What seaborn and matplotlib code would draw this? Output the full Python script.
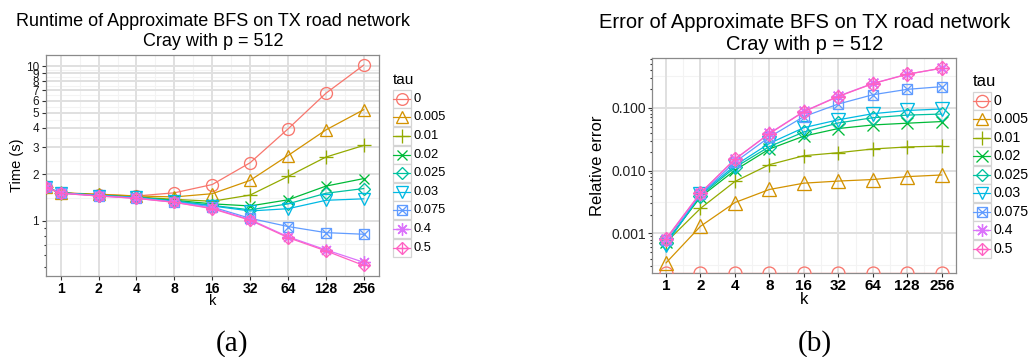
import numpy as np
import pandas as pd
import seaborn as sns
import matplotlib
matplotlib.use("Agg")
import matplotlib.pyplot as plt
from matplotlib.patches import Rectangle
from matplotlib.ticker import FixedLocator, NullLocator, NullFormatter

# ---------------- data ----------------
tau_levels = ["0", "0.005", "0.01", "0.02", "0.025", "0.03", "0.075", "0.4", "0.5"]

# runtime (seconds); k = 0 is the exact BFS baseline
k_time = [0, 1, 2, 4, 8, 16, 32, 64, 128, 256]
time_tau_0     = [1.65, 1.52, 1.48, 1.45, 1.52, 1.72, 2.38, 3.94, 6.70, 10.2]
time_tau_0005  = [1.65, 1.52, 1.49, 1.45, 1.43, 1.50, 1.83, 2.65, 3.88, 5.25]
time_tau_001   = [1.65, 1.52, 1.47, 1.43, 1.38, 1.34, 1.47, 1.94, 2.59, 3.08]
time_tau_002   = [1.65, 1.52, 1.47, 1.42, 1.36, 1.29, 1.25, 1.37, 1.68, 1.88]
time_tau_0025  = [1.65, 1.52, 1.46, 1.42, 1.35, 1.26, 1.18, 1.29, 1.51, 1.62]
time_tau_003   = [1.65, 1.52, 1.46, 1.42, 1.34, 1.25, 1.16, 1.20, 1.36, 1.39]
time_tau_0075  = [1.65, 1.52, 1.46, 1.41, 1.33, 1.23, 1.04, 0.92, 0.84, 0.82]
time_tau_04    = [1.65, 1.51, 1.45, 1.40, 1.32, 1.21, 1.02, 0.79, 0.65, 0.54]
time_tau_05    = [1.65, 1.51, 1.45, 1.40, 1.32, 1.20, 1.01, 0.78, 0.64, 0.515]

# relative error of the approximate distances
k_err = [1, 2, 4, 8, 16, 32, 64, 128, 256]
err_tau_0     = [0, 0, 0, 0, 0, 0, 0, 0, 0]
err_tau_0005  = [0.00034, 0.0013, 0.0031, 0.0050, 0.0063, 0.0068, 0.0072, 0.0080, 0.0085]
err_tau_001   = [0.00072, 0.0025, 0.0067, 0.0124, 0.0172, 0.0192, 0.0220, 0.0237, 0.0245]
err_tau_002   = [0.00072, 0.0038, 0.0101, 0.0220, 0.0352, 0.0465, 0.0530, 0.0565, 0.0600]
err_tau_0025  = [0.00070, 0.0040, 0.0112, 0.0240, 0.0410, 0.0570, 0.0690, 0.0760, 0.0790]
err_tau_003   = [0.00066, 0.0042, 0.0120, 0.0270, 0.0480, 0.0640, 0.0800, 0.0900, 0.0950]
err_tau_0075  = [0.00078, 0.0042, 0.0136, 0.0340, 0.0720, 0.1140, 0.1600, 0.1950, 0.2150]
err_tau_04    = [0.00082, 0.0044, 0.0150, 0.0390, 0.0870, 0.1520, 0.2420, 0.3400, 0.4200]
err_tau_05    = [0.00082, 0.0044, 0.0152, 0.0385, 0.0860, 0.1500, 0.2400, 0.3380, 0.4250]

time_series = [time_tau_0, time_tau_0005, time_tau_001, time_tau_002, time_tau_0025,
               time_tau_003, time_tau_0075, time_tau_04, time_tau_05]
err_series = [err_tau_0, err_tau_0005, err_tau_001, err_tau_002, err_tau_0025,
              err_tau_003, err_tau_0075, err_tau_04, err_tau_05]

x_ticks = [1, 2, 4, 8, 16, 32, 64, 128, 256]
time_ticks = [1, 2, 3, 4, 5, 6, 7, 8, 9, 10]
err_ticks = [0.001, 0.01, 0.1]
err_tick_labels = ["0.001", "0.010", "0.100"]

df_time = pd.DataFrame([(t, k, v) for t, s in zip(tau_levels, time_series)
                        for k, v in zip(k_time, s)], columns=["tau", "k", "time"])
df_err = pd.DataFrame([(t, k, v) for t, s in zip(tau_levels, err_series)
                       for k, v in zip(k_err, s)], columns=["tau", "k", "error"])

# ---------------- style ----------------
sns.set_theme(style="white")
plt.rcParams["font.family"] = ["Liberation Sans", "DejaVu Sans"]

colors = ["#F8766D", "#D39200", "#93AA00", "#00BA38", "#00C19F",
          "#00B9E3", "#619CFF", "#DB72FB", "#FF61C3"]
# (marker, size scale) list per level; two entries = overlaid glyphs
shapes = [
    [("o", 1.0)],
    [("^", 1.05)],
    [("+", 1.15)],
    [("x", 0.9)],
    [("D", 0.72)],
    [("v", 1.05)],
    [("s", 0.8), ("x", 0.8)],
    [((8, 2, 0), 1.05)],
    [("D", 0.72), ("+", 1.05)],
]

W, H, DPI = 1028, 357, 100
fig = plt.figure(figsize=(W / DPI, H / DPI), dpi=DPI)


def px_axes(x0, y0, x1, y1):
    return fig.add_axes([x0 / W, 1 - y1 / H, (x1 - x0) / W, (y1 - y0) / H])


def log_limits(vals, base=10):
    lv = np.log(np.asarray(vals)) / np.log(base)
    lo, hi = lv.min(), lv.max()
    pad = 0.05 * (hi - lo)
    return base ** (lo - pad), base ** (hi + pad)


def style_panel(ax):
    ax.grid(False)
    for sp in ax.spines.values():
        sp.set_color("#8a8a8a")
        sp.set_linewidth(0.9)
    ax.set_facecolor("white")
    ax.tick_params(axis="both", which="both", direction="out", bottom=True, left=True,
                   top=False, right=False, color="#333333", width=0.8)
    ax.tick_params(axis="both", which="major", length=3.2)
    ax.tick_params(axis="both", which="minor", length=1.8)


def draw_series(ax, data, ycol, xlim_lo, ylim_lo, ms, lw):
    for i, tau in enumerate(tau_levels):
        sub = data[data["tau"] == tau].copy()
        # values that are 0 sit on the panel edge of a log scale
        sub["kx"] = sub["k"].where(sub["k"] > 0, xlim_lo)
        sub["yv"] = sub[ycol].where(sub[ycol] > 0, ylim_lo)
        c = colors[i]
        for j, (m, sc) in enumerate(shapes[i]):
            sns.lineplot(data=sub, x="kx", y="yv", ax=ax, color=c,
                         estimator=None, sort=False, legend=False,
                         linewidth=lw if j == 0 else 0,
                         linestyle="-" if j == 0 else "",
                         marker=m, markersize=ms * sc,
                         markerfacecolor="none", markeredgecolor=c,
                         markeredgewidth=0.95, zorder=3 + i * 0.01)


def x_grid(ax):
    for k in x_ticks:
        ax.axvline(k, color="#e0e0e0", lw=1.4, zorder=0.5)
    for k in [2 ** (e + 0.5) for e in range(-1, 9)]:
        ax.axvline(k, color="#f3f3f3", lw=0.8, zorder=0.4)


# ---------------- left panel: runtime ----------------
axL = px_axes(45.5, 55, 379, 275.5)
xlo, xhi = 2 ** -0.4, 2 ** 8.4
tlo, thi = log_limits(df_time.loc[df_time["k"] > 0, "time"])
style_panel(axL)
draw_series(axL, df_time, "time", xlo, tlo, ms=8.6, lw=0.9)
axL.set_xscale("log", base=2)
axL.set_yscale("log")
axL.set_xlim(xlo, xhi)
axL.set_ylim(tlo, thi)
x_grid(axL)
for v in time_ticks:
    axL.axhline(v, color="#e0e0e0", lw=1.4, zorder=0.5)
mids = [np.sqrt(a * b) for a, b in zip(time_ticks[:-1], time_ticks[1:])] + [np.sqrt(0.5)]
for v in mids:
    axL.axhline(v, color="#f3f3f3", lw=0.8, zorder=0.4)
axL.xaxis.set_major_locator(FixedLocator(x_ticks))
axL.xaxis.set_minor_locator(NullLocator())
axL.set_xticklabels([str(k) for k in x_ticks], fontsize=10, fontweight="bold", color="black")
axL.yaxis.set_major_locator(FixedLocator(time_ticks))
axL.yaxis.set_minor_locator(FixedLocator([0.5, 0.6, 0.7, 0.8, 0.9]))
axL.yaxis.set_minor_formatter(NullFormatter())
axL.set_yticklabels([str(v) for v in time_ticks], fontsize=8.5, color="#1a1a1a")
axL.tick_params(axis="x", pad=1.5)
axL.tick_params(axis="y", pad=1.5)
axL.set_xlabel("k", fontsize=10.5, color="black")
axL.set_ylabel("Time (s)", fontsize=10.5, color="black")
axL.xaxis.set_label_coords(0.5, (357 - 301 - 81.5) / 220.5)
axL.xaxis.label.set_va("center")
axL.yaxis.set_label_coords((16.5 - 45.5) / 333.5, 0.5)
axL.yaxis.label.set_va("center")

# ---------------- right panel: relative error ----------------
axR = px_axes(652.2, 58.3, 955.5, 272.7)
elo, ehi = log_limits(df_err.loc[df_err["error"] > 0, "error"])
style_panel(axR)
draw_series(axR, df_err, "error", xlo, elo, ms=9.3, lw=0.9)
axR.set_xscale("log", base=2)
axR.set_yscale("log")
axR.set_xlim(xlo, xhi)
axR.set_ylim(elo, ehi)
x_grid(axR)
for v in err_ticks:
    axR.axhline(v, color="#e0e0e0", lw=1.4, zorder=0.5)
for e in [-3.5, -2.5, -1.5, -0.5]:
    axR.axhline(10 ** e, color="#f3f3f3", lw=0.8, zorder=0.4)
axR.xaxis.set_major_locator(FixedLocator(x_ticks))
axR.xaxis.set_minor_locator(NullLocator())
axR.set_xticklabels([str(k) for k in x_ticks], fontsize=11, fontweight="bold", color="black")
axR.yaxis.set_major_locator(FixedLocator(err_ticks))
minor_err = [m * 10.0 ** d for d in (-4, -3, -2, -1) for m in range(2, 10)]
axR.yaxis.set_minor_locator(FixedLocator(minor_err))
axR.yaxis.set_minor_formatter(NullFormatter())
axR.set_yticklabels(err_tick_labels, fontsize=10, color="#222222")
axR.tick_params(axis="x", pad=1.5)
axR.tick_params(axis="y", pad=1.5)
axR.set_xlabel("k", fontsize=12, color="black")
axR.set_ylabel("Relative error", fontsize=12, color="black")
axR.xaxis.set_label_coords(0.5, (357 - 300 - 84.3) / 214.4)
axR.xaxis.label.set_va("center")
axR.yaxis.set_label_coords((598 - 652.2) / 303.3, 0.5)
axR.yaxis.label.set_va("center")

# ---------------- titles ----------------
fig.text(213 / W, 1 - 21.7 / H, "Runtime of Approximate BFS on TX road network",
         ha="center", va="center", fontsize=13, color="black")
fig.text(213 / W, 1 - 41.7 / H, "Cray with p = 512",
         ha="center", va="center", fontsize=13, color="black")
fig.text(805 / W, 1 - 22.7 / H, "Error of Approximate BFS on TX road network",
         ha="center", va="center", fontsize=14.5, color="black")
fig.text(805 / W, 1 - 44 / H, "Cray with p = 512",
         ha="center", va="center", fontsize=14.5, color="black")

# ---------------- legends ----------------
lax = fig.add_axes([0, 0, 1, 1])
lax.set_xlim(0, W)
lax.set_ylim(H, 0)
lax.axis("off")


def draw_legend(x0, title_y, y_first, step, key, ms, fs, title_fs):
    lax.text(x0, title_y, "tau", ha="left", va="center", fontsize=title_fs, color="black")
    for i, tau in enumerate(tau_levels):
        yc = y_first + i * step
        c = colors[i]
        lax.add_patch(Rectangle((x0, yc - key / 2), key, key, facecolor="white",
                                edgecolor="#d4d4d4", linewidth=0.9))
        lax.plot([x0 + 0.8, x0 + key - 0.8], [yc, yc], color=c, lw=0.9)
        for m, sc in shapes[i]:
            lax.plot([x0 + key / 2], [yc], linestyle="", marker=m, markersize=ms * sc,
                     markerfacecolor="none", markeredgecolor=c, markeredgewidth=0.95)
        lax.text(x0 + key + 2.5, yc, tau, ha="left", va="center", fontsize=fs, color="black")


draw_legend(392.5, 80.5, 98.8, 18.6, 18, ms=8.4, fs=9.3, title_fs=11)
draw_legend(972.5, 82, 100.8, 18.5, 18, ms=8.8, fs=10.2, title_fs=12)

# ---------------- sub-figure captions ----------------
fig.text(232 / W, 1 - 344 / H, "(a)", ha="center", va="center", fontsize=21,
         family=["Liberation Serif", "DejaVu Serif"], color="black")
fig.text(815 / W, 1 - 344 / H, "(b)", ha="center", va="center", fontsize=21,
         family=["Liberation Serif", "DejaVu Serif"], color="black")

fig.savefig("out.png", dpi=DPI, facecolor="white")
